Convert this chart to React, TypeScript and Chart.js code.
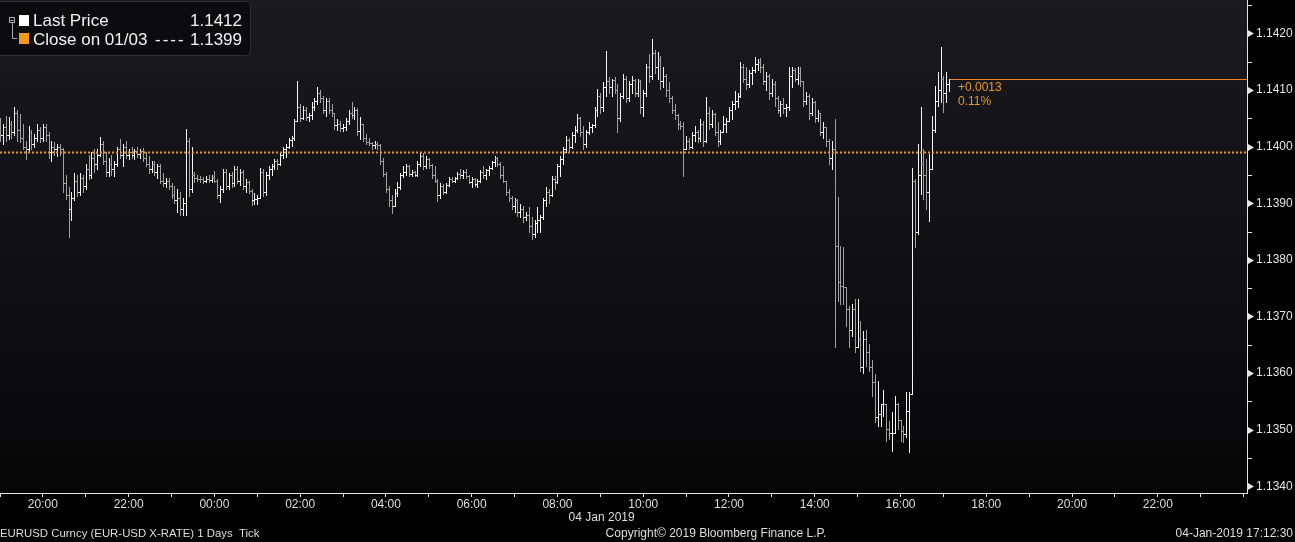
import React, { useEffect, useRef } from 'react';
import { Chart, registerables } from 'chart.js';

Chart.register(...registerables);

// Time axis: hours relative to 04 Jan 2019 00:00 (CET). -5 = 19:00 on 03 Jan.
const START_HOUR = -5;
const BAR_MINUTES = 4;
const X_MIN = -5;
const X_MAX = 24.08;
const Y_MIN = 1.133884;
const Y_MAX = 1.142587;

const PREV_CLOSE = 1.1399;
const LAST_PRICE = 1.1412;
const LEGEND_LABELS = ['Last Price', 'Close on 01/03'];
const FOOTER_LEFT = 'EURUSD Curncy (EUR-USD X-RATE) 1 Days  Tick';
const FOOTER_CENTER = 'Copyright\u00A9 2019 Bloomberg Finance L.P.';
const FOOTER_RIGHT = '04-Jan-2019 17:12:30';
const DATE_LABEL = '04 Jan 2019';

const OPEN = [
  1.1403, 1.1402, 1.14035, 1.1402, 1.1404, 1.14025, 1.1406, 1.1403, 1.14015, 1.14,
  1.13995, 1.14025, 1.14005, 1.14015, 1.1403, 1.14015, 1.14035, 1.1402, 1.1399, 1.14,
  1.13995, 1.14, 1.13995, 1.13935, 1.13915, 1.1389, 1.1391, 1.1394, 1.1392, 1.13945,
  1.1393, 1.1396, 1.1395, 1.1398, 1.1397, 1.13985, 1.14005, 1.13975, 1.13955, 1.1397,
  1.1396, 1.1397, 1.13995, 1.13985, 1.14, 1.13985, 1.1399, 1.13985, 1.13993, 1.13986,
  1.13992, 1.1398, 1.1397, 1.1396, 1.1397, 1.13955, 1.13965, 1.1394, 1.13935, 1.1394,
  1.1393, 1.13915, 1.13905, 1.1391, 1.1389, 1.139, 1.1401, 1.13925, 1.1395, 1.13945,
  1.13943, 1.13942, 1.1394, 1.13943, 1.13941, 1.13946, 1.1394, 1.13915, 1.13925, 1.13955,
  1.1393, 1.1395, 1.13935, 1.1396, 1.1394, 1.13955, 1.1393, 1.13938, 1.13922, 1.13905,
  1.13908, 1.1391, 1.13955, 1.1392, 1.1395, 1.1396, 1.13965, 1.13975, 1.1397, 1.13985,
  1.13995, 1.14, 1.14012, 1.14015, 1.14045, 1.1407, 1.1405, 1.14065, 1.14052, 1.14055,
  1.1407, 1.1408, 1.14095, 1.14085, 1.14065, 1.1408, 1.14065, 1.1406, 1.14038, 1.1404,
  1.14032, 1.14035, 1.14045, 1.1406, 1.14055, 1.14065, 1.14028, 1.1404, 1.14015, 1.14008,
  1.14006, 1.14003, 1.14005, 1.14002, 1.13975, 1.13952, 1.13925, 1.13905, 1.13895, 1.13918,
  1.13928, 1.1395, 1.13955, 1.13965, 1.13952, 1.13955, 1.1395, 1.1397, 1.13983, 1.13965,
  1.13978, 1.13968, 1.1395, 1.1394, 1.13915, 1.1393, 1.1392, 1.13932, 1.13942, 1.1394,
  1.13944, 1.13952, 1.1395, 1.13955, 1.13948, 1.13938, 1.13942, 1.13934, 1.1394, 1.13955,
  1.1395, 1.13958, 1.13962, 1.13972, 1.1398, 1.1397, 1.1395, 1.1394, 1.1392, 1.1391,
  1.13895, 1.13905, 1.13885, 1.1389, 1.13875, 1.1388, 1.1386, 1.13845, 1.13865, 1.1387,
  1.13875, 1.13905, 1.1392, 1.13915, 1.13942, 1.13938, 1.13965, 1.13978, 1.13995, 1.14012,
  1.14, 1.1402, 1.1403, 1.1405, 1.14025, 1.14005, 1.14025, 1.14035, 1.14038, 1.14065,
  1.1409, 1.1407, 1.14105, 1.14115, 1.14105, 1.14118, 1.141, 1.1405, 1.1409, 1.1412,
  1.14085, 1.1411, 1.14118, 1.14095, 1.14115, 1.1407, 1.14095, 1.1414, 1.14125, 1.14165,
  1.1414, 1.14155, 1.14115, 1.14125, 1.141, 1.14085, 1.14065, 1.14055, 1.1404, 1.14036,
  1.13995, 1.1401, 1.14, 1.1402, 1.14025, 1.14015, 1.1404, 1.1401, 1.1406, 1.1404,
  1.14058, 1.14025, 1.1401, 1.14025, 1.1404, 1.14045, 1.14065, 1.14075, 1.1408, 1.1409,
  1.1414, 1.1412, 1.1411, 1.1413, 1.14135, 1.14145, 1.1415, 1.1414, 1.14115, 1.14125,
  1.14095, 1.1411, 1.14085, 1.14065, 1.14075, 1.14068, 1.1407, 1.14125, 1.14135, 1.1412,
  1.1413, 1.14115, 1.1408, 1.1409, 1.1406, 1.14078, 1.1405, 1.1406, 1.14025, 1.14035,
  1.1401, 1.1398, 1.13995, 1.13824, 1.1376, 1.13753, 1.13752, 1.13713, 1.13677, 1.13713,
  1.13647, 1.1366, 1.1361, 1.1366, 1.13637, 1.1361, 1.13584, 1.13522, 1.13527, 1.13545,
  1.13545, 1.13501, 1.13495, 1.13495, 1.13545, 1.13518, 1.13497, 1.13492, 1.13533, 1.13563,
  1.1394, 1.1385, 1.1395, 1.1397, 1.1395, 1.1392, 1.1396, 1.1403, 1.1408, 1.141,
  1.1412, 1.14095, 1.1411,
];

const HIGH = [
  1.1405, 1.1404, 1.14054, 1.14052, 1.14045, 1.1407, 1.14065, 1.14057, 1.1404, 1.1401,
  1.14036, 1.1403, 1.14022, 1.1404, 1.14035, 1.1404, 1.1404, 1.14025, 1.1401, 1.14008,
  1.14005, 1.14005, 1.13998, 1.1395, 1.13928, 1.1392, 1.13954, 1.1395, 1.13953, 1.1395,
  1.1397, 1.13985, 1.1399, 1.13995, 1.13995, 1.14017, 1.1401, 1.1399, 1.1398, 1.13985,
  1.13975, 1.14, 1.14013, 1.14005, 1.1401, 1.13995, 1.14, 1.13995, 1.14, 1.13995,
  1.13998, 1.1399, 1.13983, 1.13975, 1.13975, 1.1397, 1.1397, 1.13954, 1.13945, 1.13945,
  1.13935, 1.1393, 1.13925, 1.1392, 1.1391, 1.14031, 1.14015, 1.14, 1.13955, 1.1395,
  1.13948, 1.13946, 1.13948, 1.13949, 1.1395, 1.13956, 1.13943, 1.1393, 1.1396, 1.1396,
  1.13954, 1.13955, 1.13965, 1.13965, 1.1396, 1.13958, 1.13942, 1.1394, 1.13925, 1.13918,
  1.13915, 1.13963, 1.1396, 1.13955, 1.13965, 1.1397, 1.13978, 1.13978, 1.1399, 1.14,
  1.14004, 1.14015, 1.14018, 1.14048, 1.14115, 1.14075, 1.14071, 1.1407, 1.1406, 1.14078,
  1.14085, 1.14105, 1.141, 1.14089, 1.14085, 1.14085, 1.14075, 1.1406, 1.14048, 1.14045,
  1.1404, 1.1405, 1.14065, 1.14078, 1.1407, 1.14068, 1.14052, 1.1404, 1.14022, 1.14015,
  1.14008, 1.1401, 1.14008, 1.14004, 1.1398, 1.13955, 1.1393, 1.13915, 1.13925, 1.13938,
  1.13954, 1.13965, 1.13969, 1.13968, 1.13958, 1.13956, 1.13975, 1.1399, 1.13988, 1.13983,
  1.1398, 1.1397, 1.13965, 1.13942, 1.13935, 1.13933, 1.13935, 1.13946, 1.13946, 1.13946,
  1.13955, 1.1396, 1.13958, 1.1396, 1.1395, 1.13946, 1.13945, 1.13942, 1.13958, 1.13965,
  1.1396, 1.13965, 1.13975, 1.13983, 1.13982, 1.13972, 1.13965, 1.1394, 1.13925, 1.13912,
  1.1391, 1.13908, 1.13898, 1.13895, 1.13885, 1.13893, 1.13875, 1.1387, 1.13893, 1.1388,
  1.1391, 1.13928, 1.13925, 1.13948, 1.13948, 1.1397, 1.13983, 1.14, 1.14018, 1.14015,
  1.14025, 1.14036, 1.14057, 1.14052, 1.14036, 1.1403, 1.14043, 1.1404, 1.1407, 1.14101,
  1.14095, 1.14114, 1.14169, 1.14123, 1.1412, 1.14122, 1.1411, 1.14095, 1.14128, 1.14125,
  1.14115, 1.14124, 1.1412, 1.1412, 1.14118, 1.141, 1.14145, 1.14163, 1.1419, 1.1417,
  1.14167, 1.1416, 1.1414, 1.14128, 1.14114, 1.14089, 1.14075, 1.14058, 1.14045, 1.14043,
  1.14018, 1.14015, 1.14025, 1.14036, 1.1403, 1.14048, 1.14045, 1.14087, 1.1407, 1.14065,
  1.1406, 1.14043, 1.1403, 1.14054, 1.1405, 1.1407, 1.1408, 1.14098, 1.14095, 1.14149,
  1.14145, 1.1414, 1.14135, 1.1414, 1.14158, 1.14154, 1.14156, 1.14145, 1.14131, 1.14128,
  1.14119, 1.14115, 1.14089, 1.1408, 1.14085, 1.14075, 1.1414, 1.1414, 1.14138, 1.1414,
  1.1414, 1.14115, 1.14096, 1.14093, 1.14085, 1.1408, 1.14065, 1.1406, 1.14043, 1.14035,
  1.14013, 1.1401, 1.14048, 1.13911, 1.13824, 1.13822, 1.13752, 1.13718, 1.13722, 1.1373,
  1.1373, 1.13692, 1.13674, 1.13677, 1.13651, 1.13624, 1.13598, 1.13586, 1.13545, 1.13571,
  1.13545, 1.13515, 1.13531, 1.13559, 1.13548, 1.13518, 1.13506, 1.13566, 1.13566, 1.13963,
  1.13942, 1.14004, 1.1407, 1.13995, 1.13978, 1.13986, 1.14054, 1.14107, 1.14131, 1.14176,
  1.14124, 1.14131, 1.1412,
];

const LOW = [
  1.1401, 1.14005, 1.1401, 1.14013, 1.14015, 1.1402, 1.1401, 1.14008, 1.13995, 1.13978,
  1.1399, 1.13995, 1.14, 1.1401, 1.14008, 1.1401, 1.1401, 1.1398, 1.13974, 1.13985,
  1.13983, 1.13985, 1.1392, 1.13907, 1.1384, 1.1387, 1.13905, 1.13912, 1.13915, 1.1392,
  1.13925, 1.13942, 1.13945, 1.13955, 1.1396, 1.13983, 1.1397, 1.13948, 1.13948, 1.1395,
  1.13948, 1.13965, 1.1398, 1.13965, 1.1398, 1.13978, 1.1398, 1.13978, 1.13982, 1.1398,
  1.13975, 1.13965, 1.13954, 1.13955, 1.1395, 1.13945, 1.13935, 1.1393, 1.13928, 1.13925,
  1.1391, 1.139, 1.13885, 1.1388, 1.1388, 1.1388, 1.13912, 1.1392, 1.13938, 1.13939,
  1.13938, 1.13936, 1.13937, 1.13938, 1.13937, 1.13937, 1.1391, 1.13902, 1.1392, 1.13925,
  1.13925, 1.13928, 1.1393, 1.13935, 1.13932, 1.13925, 1.1392, 1.13918, 1.13896, 1.13898,
  1.13898, 1.1391, 1.13912, 1.13915, 1.13942, 1.1395, 1.1396, 1.1396, 1.13968, 1.1398,
  1.13981, 1.13998, 1.14001, 1.14012, 1.14045, 1.14045, 1.14048, 1.14046, 1.14045, 1.14048,
  1.14065, 1.14075, 1.14078, 1.1406, 1.14054, 1.1406, 1.14054, 1.14031, 1.1403, 1.14027,
  1.14028, 1.1403, 1.1404, 1.1405, 1.14048, 1.1402, 1.14013, 1.1401, 1.14004, 1.14002,
  1.13996, 1.13998, 1.13995, 1.1397, 1.13948, 1.1392, 1.13895, 1.13882, 1.13895, 1.13912,
  1.13925, 1.13946, 1.1395, 1.13948, 1.13948, 1.13948, 1.13948, 1.13965, 1.1396, 1.13963,
  1.13963, 1.13945, 1.13937, 1.13903, 1.1391, 1.13916, 1.13918, 1.1393, 1.13937, 1.13937,
  1.13942, 1.13945, 1.13944, 1.13945, 1.13935, 1.13928, 1.1393, 1.13928, 1.13938, 1.13945,
  1.13942, 1.1395, 1.1396, 1.13965, 1.13965, 1.13945, 1.13937, 1.13915, 1.13903, 1.1389,
  1.13885, 1.13877, 1.13875, 1.13866, 1.1387, 1.1385, 1.13836, 1.1384, 1.1385, 1.13849,
  1.13872, 1.13895, 1.139, 1.13912, 1.13925, 1.13935, 1.13948, 1.1397, 1.1399, 1.1399,
  1.13998, 1.14008, 1.14025, 1.14018, 1.13995, 1.14, 1.14022, 1.14025, 1.14035, 1.14054,
  1.1406, 1.14063, 1.14089, 1.14095, 1.14089, 1.14095, 1.14025, 1.14045, 1.14085, 1.14078,
  1.1408, 1.14095, 1.14089, 1.1409, 1.1406, 1.14054, 1.1409, 1.14114, 1.1412, 1.1413,
  1.1412, 1.14101, 1.14105, 1.1409, 1.14078, 1.1406, 1.14048, 1.14031, 1.14031, 1.13948,
  1.13995, 1.13995, 1.13998, 1.1401, 1.14008, 1.1401, 1.14001, 1.14008, 1.14031, 1.14035,
  1.1402, 1.14001, 1.14005, 1.14025, 1.14025, 1.14045, 1.14048, 1.14066, 1.1407, 1.14088,
  1.14114, 1.14101, 1.14105, 1.1411, 1.14131, 1.14135, 1.14131, 1.1411, 1.141, 1.14084,
  1.1409, 1.14071, 1.1406, 1.14054, 1.1406, 1.14054, 1.14065, 1.14105, 1.14115, 1.1411,
  1.14107, 1.14071, 1.14075, 1.14048, 1.14055, 1.14043, 1.14045, 1.1402, 1.14015, 1.14001,
  1.1397, 1.1396, 1.13646, 1.13727, 1.13722, 1.13722, 1.13683, 1.13646, 1.13665, 1.13637,
  1.13646, 1.13603, 1.13601, 1.13612, 1.13603, 1.13559, 1.13513, 1.13506, 1.13506, 1.13524,
  1.1348, 1.13483, 1.13462, 1.13495, 1.13501, 1.1348, 1.13478, 1.13488, 1.1346, 1.13563,
  1.13822, 1.13845, 1.13916, 1.13907, 1.13889, 1.13868, 1.1396, 1.14025, 1.14071, 1.14078,
  1.14061, 1.14078, 1.14098,
];

const CLOSE = [
  1.1402, 1.14035, 1.1402, 1.1404, 1.14025, 1.1406, 1.1403, 1.14015, 1.14, 1.13995,
  1.14025, 1.14005, 1.14015, 1.1403, 1.14015, 1.14035, 1.1402, 1.1399, 1.14, 1.13995,
  1.14, 1.13995, 1.13935, 1.13915, 1.1389, 1.1391, 1.1394, 1.1392, 1.13945, 1.1393,
  1.1396, 1.1395, 1.1398, 1.1397, 1.13985, 1.14005, 1.13975, 1.13955, 1.1397, 1.1396,
  1.1397, 1.13995, 1.13985, 1.14, 1.13985, 1.1399, 1.13985, 1.13993, 1.13986, 1.13992,
  1.1398, 1.1397, 1.1396, 1.1397, 1.13955, 1.13965, 1.1394, 1.13935, 1.1394, 1.1393,
  1.13915, 1.13905, 1.1391, 1.1389, 1.139, 1.1401, 1.13925, 1.1395, 1.13945, 1.13943,
  1.13942, 1.1394, 1.13943, 1.13941, 1.13946, 1.1394, 1.13915, 1.13925, 1.13955, 1.1393,
  1.1395, 1.13935, 1.1396, 1.1394, 1.13955, 1.1393, 1.13938, 1.13922, 1.13905, 1.13908,
  1.1391, 1.13955, 1.1392, 1.1395, 1.1396, 1.13965, 1.13975, 1.1397, 1.13985, 1.13995,
  1.14, 1.14012, 1.14015, 1.14045, 1.1407, 1.1405, 1.14065, 1.14052, 1.14055, 1.1407,
  1.1408, 1.14095, 1.14085, 1.14065, 1.1408, 1.14065, 1.1406, 1.14038, 1.1404, 1.14032,
  1.14035, 1.14045, 1.1406, 1.14055, 1.14065, 1.14028, 1.1404, 1.14015, 1.14008, 1.14006,
  1.14003, 1.14005, 1.14002, 1.13975, 1.13952, 1.13925, 1.13905, 1.13895, 1.13918, 1.13928,
  1.1395, 1.13955, 1.13965, 1.13952, 1.13955, 1.1395, 1.1397, 1.13983, 1.13965, 1.13978,
  1.13968, 1.1395, 1.1394, 1.13915, 1.1393, 1.1392, 1.13932, 1.13942, 1.1394, 1.13944,
  1.13952, 1.1395, 1.13955, 1.13948, 1.13938, 1.13942, 1.13934, 1.1394, 1.13955, 1.1395,
  1.13958, 1.13962, 1.13972, 1.1398, 1.1397, 1.1395, 1.1394, 1.1392, 1.1391, 1.13895,
  1.13905, 1.13885, 1.1389, 1.13875, 1.1388, 1.1386, 1.13845, 1.13865, 1.1387, 1.13875,
  1.13905, 1.1392, 1.13915, 1.13942, 1.13938, 1.13965, 1.13978, 1.13995, 1.14012, 1.14,
  1.1402, 1.1403, 1.1405, 1.14025, 1.14005, 1.14025, 1.14035, 1.14038, 1.14065, 1.1409,
  1.1407, 1.14105, 1.14115, 1.14105, 1.14118, 1.141, 1.1405, 1.1409, 1.1412, 1.14085,
  1.1411, 1.14118, 1.14095, 1.14115, 1.1407, 1.14095, 1.1414, 1.14125, 1.14165, 1.1414,
  1.14155, 1.14115, 1.14125, 1.141, 1.14085, 1.14065, 1.14055, 1.1404, 1.14036, 1.13995,
  1.1401, 1.14, 1.1402, 1.14025, 1.14015, 1.1404, 1.1401, 1.1406, 1.1404, 1.14058,
  1.14025, 1.1401, 1.14025, 1.1404, 1.14045, 1.14065, 1.14075, 1.1408, 1.1409, 1.1414,
  1.1412, 1.1411, 1.1413, 1.14135, 1.14145, 1.1415, 1.1414, 1.14115, 1.14125, 1.14095,
  1.1411, 1.14085, 1.14065, 1.14075, 1.14068, 1.1407, 1.14125, 1.14135, 1.1412, 1.1413,
  1.14115, 1.1408, 1.1409, 1.1406, 1.14078, 1.1405, 1.1406, 1.14025, 1.14035, 1.1401,
  1.1398, 1.13995, 1.13824, 1.1376, 1.13753, 1.13752, 1.13713, 1.13677, 1.13713, 1.13647,
  1.1366, 1.1361, 1.1366, 1.13637, 1.1361, 1.13584, 1.13522, 1.13527, 1.13545, 1.13545,
  1.13501, 1.13495, 1.13495, 1.13545, 1.13518, 1.13497, 1.13492, 1.13533, 1.13563, 1.1394,
  1.1385, 1.1395, 1.1397, 1.1395, 1.1392, 1.1396, 1.1403, 1.1408, 1.141, 1.1412,
  1.14095, 1.1411, 1.1412,
];

const TIMES = CLOSE.map((_, i) => START_HOUR + (i * BAR_MINUTES) / 60);

const FONT = "'Liberation Sans', Arial, sans-serif";
const UP_COLOR = '#f6f6f6';
const DOWN_COLOR = '#a0a0a0';
const ORANGE = '#f39a1a';
const DOTTED = '#e8962c';
const LAST_LINE = '#f5841f';
const AXIS = '#e4e4e4';
const TEXT = '#dedede';

const pad2 = (n: number) => (n < 10 ? '0' + n : '' + n);

const bgPlugin = {
  id: 'bbgBackground',
  beforeDraw(chart: any) {
    const { ctx, chartArea: a, width, height } = chart;
    ctx.save();
    ctx.fillStyle = '#000000';
    ctx.fillRect(0, 0, width, height);
    const g = ctx.createLinearGradient(0, a.top, 0, a.bottom);
    g.addColorStop(0, '#1a191e');
    g.addColorStop(0.5, '#111013');
    g.addColorStop(1, '#060607');
    ctx.fillStyle = g;
    ctx.fillRect(a.left, a.top, a.right - a.left, a.bottom - a.top);
    ctx.restore();
  },
};

const ohlcPlugin = {
  id: 'ohlcBars',
  afterDatasetsDraw(chart: any) {
    const { ctx, chartArea: a } = chart;
    const xs = chart.scales.x;
    const ys = chart.scales.y;
    ctx.save();
    ctx.beginPath();
    ctx.rect(a.left, a.top, a.right - a.left, a.bottom - a.top);
    ctx.clip();
    for (let i = 0; i < CLOSE.length; i++) {
      const X = Math.round(xs.getPixelForValue(TIMES[i]));
      const yh = Math.round(ys.getPixelForValue(HIGH[i]));
      const yl = Math.round(ys.getPixelForValue(LOW[i]));
      const yo = Math.round(ys.getPixelForValue(OPEN[i]));
      const yc = Math.round(ys.getPixelForValue(CLOSE[i]));
      ctx.fillStyle = CLOSE[i] >= OPEN[i] ? UP_COLOR : DOWN_COLOR;
      ctx.fillRect(X, yh, 1, Math.max(1, yl - yh + 1));
      ctx.fillRect(X - 2, yo, 2, 1);
      ctx.fillRect(X + 1, yc, 2, 1);
    }

    // previous close dotted line
    const yPrev = Math.round(ys.getPixelForValue(PREV_CLOSE));
    ctx.strokeStyle = DOTTED;
    ctx.lineWidth = 2;
    ctx.setLineDash([2, 2]);
    ctx.beginPath();
    ctx.moveTo(a.left, yPrev + 0.5);
    ctx.lineTo(a.right, yPrev + 0.5);
    ctx.stroke();
    ctx.setLineDash([]);

    // last price line
    const last = CLOSE.length - 1;
    const xLast = Math.round(xs.getPixelForValue(TIMES[last])) + 1;
    const yLast = Math.round(ys.getPixelForValue(LAST_PRICE));
    ctx.fillStyle = LAST_LINE;
    ctx.fillRect(xLast, yLast, a.right - xLast, 1);

    const diff = LAST_PRICE - PREV_CLOSE;
    const pct = (diff / PREV_CLOSE) * 100;
    ctx.fillStyle = '#e4962e';
    ctx.font = `12px ${FONT}`;
    ctx.textBaseline = 'middle';
    ctx.textAlign = 'left';
    ctx.fillText((diff >= 0 ? '+' : '') + diff.toFixed(4), xLast + 8, yLast + 9);
    ctx.fillText(pct.toFixed(2) + '%', xLast + 8, yLast + 23);
    ctx.restore();
  },
  afterDraw(chart: any) {
    const { ctx, chartArea: a, width } = chart;
    const ys = chart.scales.y;
    const xs = chart.scales.x;
    ctx.save();
    // y-axis markers
    ctx.fillStyle = AXIS;
    for (const t of ys.ticks) {
      const k = Math.round(t.value * 2000);
      const py = Math.round(ys.getPixelForValue(t.value));
      if (py < a.top || py > a.bottom) continue;
      if (k % 2 === 0) {
        ctx.beginPath();
        ctx.moveTo(a.right + 1, py - 3);
        ctx.lineTo(a.right + 7, py + 0.5);
        ctx.lineTo(a.right + 1, py + 4);
        ctx.closePath();
        ctx.fill();
      } else {
        ctx.fillRect(a.right + 1, py, 4, 1);
      }
    }

    // date label & footer
    ctx.fillStyle = TEXT;
    ctx.font = `12px ${FONT}`;
    ctx.textBaseline = 'middle';
    ctx.textAlign = 'center';
    ctx.fillText(DATE_LABEL, xs.getPixelForValue(9.03), 518);
    ctx.textAlign = 'center';
    ctx.fillText(FOOTER_CENTER, 716, 534);
    ctx.textAlign = 'right';
    ctx.fillText(FOOTER_RIGHT, width - 2, 534);
    ctx.font = `11.4px ${FONT}`;
    ctx.textAlign = 'left';
    ctx.fillText(FOOTER_LEFT, 0, 534);

    // legend box
    ctx.fillStyle = '#0c0c0f';
    ctx.strokeStyle = '#2e2e34';
    ctx.lineWidth = 1;
    ctx.beginPath();
    ctx.roundRect(-4.5, 1.5, 255, 54, 4);
    ctx.fill();
    ctx.stroke();

    // tree icon
    ctx.strokeStyle = '#a8a8a8';
    ctx.strokeRect(9.5, 17.5, 5, 5);
    ctx.beginPath();
    ctx.moveTo(10.5, 20.5);
    ctx.lineTo(13.5, 20.5);
    ctx.moveTo(12.5, 22.5);
    ctx.lineTo(12.5, 38.5);
    ctx.lineTo(17, 38.5);
    ctx.stroke();

    ctx.fillStyle = '#ffffff';
    ctx.fillRect(19, 15, 10, 11);
    ctx.fillStyle = ORANGE;
    ctx.fillRect(19, 33, 10, 11);

    ctx.font = `17px ${FONT}`;
    ctx.textBaseline = 'middle';
    ctx.fillStyle = '#f2f2f2';
    ctx.textAlign = 'left';
    ctx.fillText(LEGEND_LABELS[0], 33, 21);
    ctx.fillText(LEGEND_LABELS[1], 33, 40);
    (ctx as any).letterSpacing = '2px';
    ctx.fillText('----', 155, 40);
    (ctx as any).letterSpacing = '0px';
    ctx.textAlign = 'right';
    ctx.fillText(LAST_PRICE.toFixed(4), 242, 21);
    ctx.fillText(PREV_CLOSE.toFixed(4), 242, 40);
    ctx.restore();
  },
};

export default function App() {
  const ref = useRef<HTMLCanvasElement | null>(null);

  useEffect(() => {
    document.body.style.margin = '0';
    document.body.style.background = '#000';
    const canvas = ref.current;
    if (!canvas) return;
    Chart.defaults.font.family = FONT;

    const chart = new Chart(canvas, {
      type: 'line',
      data: {
        datasets: [
          {
            label: LEGEND_LABELS[0],
            data: CLOSE.map((c, i) => ({ x: TIMES[i], y: c })),
            showLine: false,
            pointRadius: 0,
            borderWidth: 0,
          },
        ],
      },
      options: {
        responsive: false,
        animation: false,
        devicePixelRatio: 1,
        events: [],
        layout: { padding: 0, autoPadding: false },
        plugins: { legend: { display: false }, tooltip: { enabled: false }, title: { display: false } },
        scales: {
          x: {
            type: 'linear',
            min: X_MIN,
            max: X_MAX,
            afterFit: (s: any) => {
              s.height = 49;
              s.paddingLeft = 0;
              s.paddingRight = 0;
            },
            border: { display: true, color: AXIS, width: 1 },
            grid: { display: true, drawOnChartArea: false, drawTicks: true, tickLength: 4, color: AXIS },
            ticks: {
              stepSize: 1,
              autoSkip: false,
              includeBounds: false,
              maxRotation: 0,
              padding: 0,
              color: TEXT,
              font: { size: 12, family: FONT },
              callback: (v: any) => {
                const n = Math.round(Number(v));
                if (n % 2 !== 0 || n >= 24) return '';
                const h = ((n % 24) + 24) % 24;
                return pad2(h) + ':00';
              },
            },
          },
          y: {
            type: 'linear',
            position: 'right',
            min: Y_MIN,
            max: Y_MAX,
            afterFit: (s: any) => {
              s.width = 48;
              s.paddingTop = 0;
              s.paddingBottom = 0;
            },
            border: { display: true, color: AXIS, width: 1 },
            grid: { display: true, drawOnChartArea: false, drawTicks: false, color: 'transparent' },
            ticks: {
              stepSize: 0.0005,
              autoSkip: false,
              includeBounds: false,
              padding: 9,
              color: AXIS,
              font: { size: 12, family: FONT },
              callback: (v: any) => {
                const k = Math.round(Number(v) * 2000);
                return k % 2 === 0 ? (k / 2000).toFixed(4) : '';
              },
            },
          },
        },
      },
      plugins: [bgPlugin, ohlcPlugin],
    });
    return () => chart.destroy();
  }, []);

  return (
    <div style={{ width: 1295, height: 542, background: '#000' }}>
      <canvas ref={ref} width={1295} height={542} style={{ display: 'block' }} />
    </div>
  );
}
